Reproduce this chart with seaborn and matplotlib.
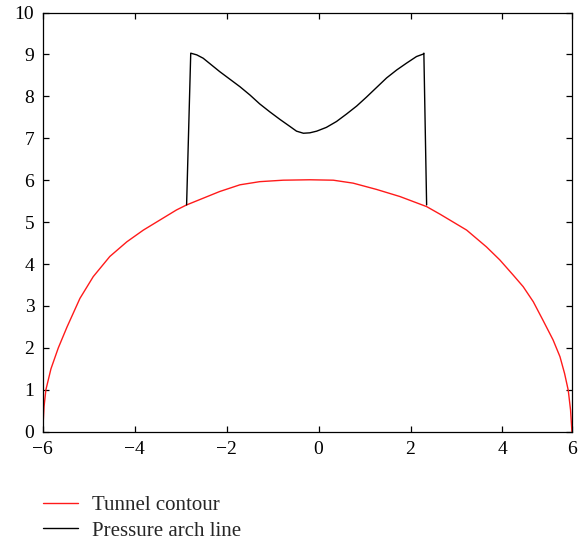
import numpy as np
import pandas as pd
import seaborn as sns
from matplotlib import pyplot as plt

# tunnel contour (red)
tunnel_x = [-6.0, -5.97, -5.93, -5.82, -5.66, -5.47, -5.19, -4.90, -4.54, -4.17, -3.81,
            -3.45, -3.09, -2.87, -2.51, -2.15, -1.71, -1.28, -0.77, -0.19, 0.32, 0.75,
            1.26, 1.77, 2.35, 2.64, 3.22, 3.65, 3.94, 4.23, 4.45, 4.67, 4.88, 5.10,
            5.25, 5.35, 5.43, 5.48, 5.51]
tunnel_y = [0.0, 0.6, 1.0, 1.5, 2.0, 2.5, 3.18, 3.70, 4.18, 4.53, 4.81,
            5.05, 5.29, 5.41, 5.57, 5.73, 5.89, 5.965, 6.0, 6.01, 6.0, 5.93,
            5.78, 5.61, 5.37, 5.19, 4.81, 4.41, 4.10, 3.74, 3.46, 3.10, 2.66, 2.19,
            1.79, 1.39, 0.99, 0.52, 0.0]

# pressure arch line (black)
arch_x = [-2.87, -2.78, -2.65, -2.51, -2.33, -2.15, -1.93, -1.71, -1.49, -1.28, -1.06,
          -0.84, -0.62, -0.48, -0.33, -0.19, -0.04, 0.17, 0.39, 0.61, 0.83, 1.04,
          1.26, 1.48, 1.70, 1.91, 2.13, 2.28, 2.29, 2.35]
arch_y = [5.41, 9.03, 8.99, 8.91, 8.75, 8.59, 8.41, 8.23, 8.03, 7.82, 7.63,
          7.45, 7.28, 7.17, 7.12, 7.13, 7.17, 7.26, 7.40, 7.58, 7.77, 7.98,
          8.21, 8.44, 8.63, 8.79, 8.95, 9.01, 9.03, 5.41]

xtick_pos = [-6, -4, -2, 0, 2, 4, 5.51]
xtick_labels = ["\u22126", "\u22124", "\u22122", "0", "2", "4", "6"]
ytick_pos = list(range(0, 11))

sns.set_style("ticks")
plt.rcParams["font.family"] = ["Liberation Serif", "DejaVu Serif"]
plt.rcParams["xtick.direction"] = "in"
plt.rcParams["ytick.direction"] = "in"

fig = plt.figure(figsize=(5.83, 5.44), dpi=100)
ax = fig.add_axes([0.0732, 0.2064, 0.9078, 0.7706])

tunnel = pd.DataFrame({"x": tunnel_x, "y": tunnel_y})
arch = pd.DataFrame({"x": arch_x, "y": arch_y})
sns.lineplot(data=tunnel, x="x", y="y", sort=False, estimator=None, color="#ff1a1a",
             linewidth=1.0, label="Tunnel contour", ax=ax)
sns.lineplot(data=arch, x="x", y="y", sort=False, estimator=None, color="black",
             linewidth=1.0, label="Pressure arch line", ax=ax)

ax.set_xlim(-6, 5.51)
ax.set_ylim(0, 10)
ax.set_xticks(xtick_pos)
ax.set_xticklabels(xtick_labels)
ax.set_yticks(ytick_pos)
ax.set_xlabel("")
ax.set_ylabel("")
ax.tick_params(top=True, right=True, length=4, width=0.9, labelsize=14, colors="black")
ax.tick_params(axis="x", pad=7)
ax.tick_params(axis="y", pad=6)
for s in ax.spines.values():
    s.set_visible(True)
    s.set_linewidth(0.9)
    s.set_color("black")

handles, labels = ax.get_legend_handles_labels()
ax.get_legend().remove()
fig.legend(handles, labels, loc="upper left", bbox_to_anchor=(0.042, 0.124),
           frameon=False, fontsize=15, handlelength=1.65, handletextpad=0.7,
           labelspacing=0.3)

fig.savefig("out.png", dpi=100)
